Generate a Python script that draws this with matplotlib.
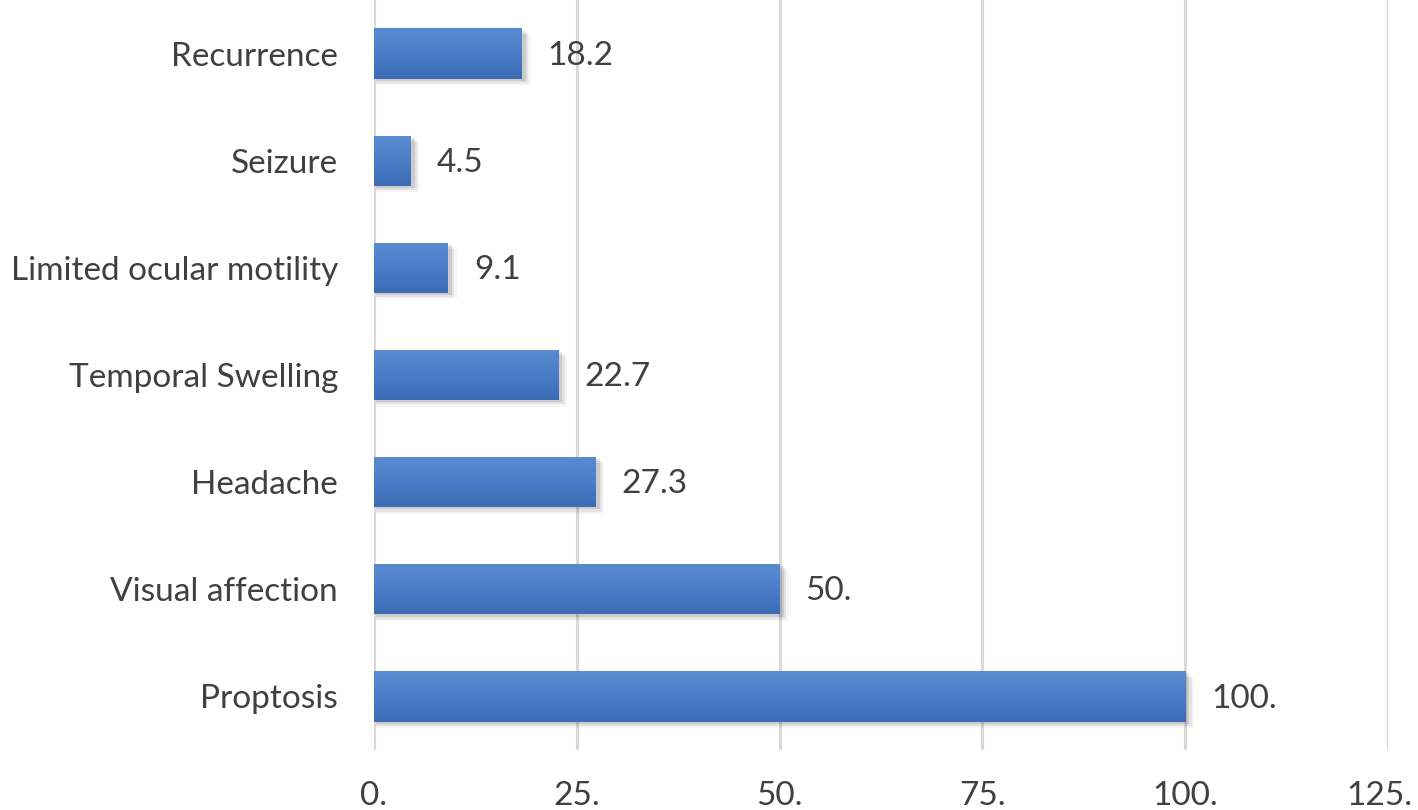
#!/usr/bin/env python3
# horizontal bar chart with excel-like gradient bars
import numpy as np
import matplotlib as mpl
mpl.use('Agg')
import matplotlib.pyplot as plt
import matplotlib.transforms as mtransforms
from matplotlib.colors import LinearSegmentedColormap

categories = ["Proptosis", "Visual affection", "Headache", "Temporal Swelling",
              "Limited ocular motility", "Seizure", "Recurrence"]
values = [100.0, 50.0, 27.3, 22.7, 9.1, 4.5, 18.2]
value_labels = ["100.", "50.", "27.3", "22.7", "9.1", "4.5", "18.2"]
xticks = [0, 25, 50, 75, 100, 125]
xtick_labels = ["0.", "25.", "50.", "75.", "100.", "125."]

plt.rcParams['font.family'] = ['Lato', 'DejaVu Sans']

fig = plt.figure(figsize=(14.18, 8.10), dpi=100)
ax = fig.add_axes([374/1418, 1 - 750/810, 1014/1418, 750/810])

text_col = "#404040"
fsize = 24
bar_h = 0.47
ypos = np.arange(len(categories))

# gradient for the bars (lighter top, darker bottom)
cmap = LinearSegmentedColormap.from_list("bar", ["#3a6db6", "#4a7dc6", "#5b8cd2"])
grad = np.linspace(0, 1, 64).reshape(-1, 1)

for y, v in zip(ypos, values):
    # soft shadow
    for k, a in enumerate([0.10, 0.07, 0.04]):
        off = 0.02 + k * 0.02
        ax.barh(y - off, v + 0.3 + k * 0.3, height=bar_h, left=0.2,
                color="black", alpha=a, linewidth=0, zorder=2)
    bars = ax.barh(y, v, height=bar_h, color="#4a7cc4", linewidth=0, zorder=3)
    im = ax.imshow(grad, cmap=cmap, aspect="auto", origin="lower",
                   extent=[0, v, y - bar_h / 2, y + bar_h / 2], zorder=4)
    im.set_clip_path(bars[0])

for y, v, lab in zip(ypos, values, value_labels):
    ax.text(v + 26 / 8.11, y - 0.02, lab, va="center", ha="left",
            fontsize=fsize, color=text_col, zorder=5)

ax.set_xlim(0, 125)
ax.set_ylim(-0.5, len(categories) - 0.5)
ax.set_xticks(xticks)
ax.set_xticklabels(xtick_labels)
ax.set_yticks(ypos)
ax.set_yticklabels(categories)
ax.tick_params(axis="both", length=0, labelsize=fsize, labelcolor=text_col)
ax.tick_params(axis="x", pad=22)
ax.tick_params(axis="y", pad=26)

# last x label sits at the right edge, nudge it in a bit
last = ax.get_xticklabels()[-1]
last.set_transform(last.get_transform() +
                   mtransforms.ScaledTranslation(-9 / 100, 0, fig.dpi_scale_trans))

ax.grid(axis="x", color="#d9d9d9", linewidth=2.2, zorder=0)
ax.set_axisbelow(True)
for s in ax.spines.values():
    s.set_visible(False)

fig.savefig("out.png", dpi=100)
plt.close('all')
